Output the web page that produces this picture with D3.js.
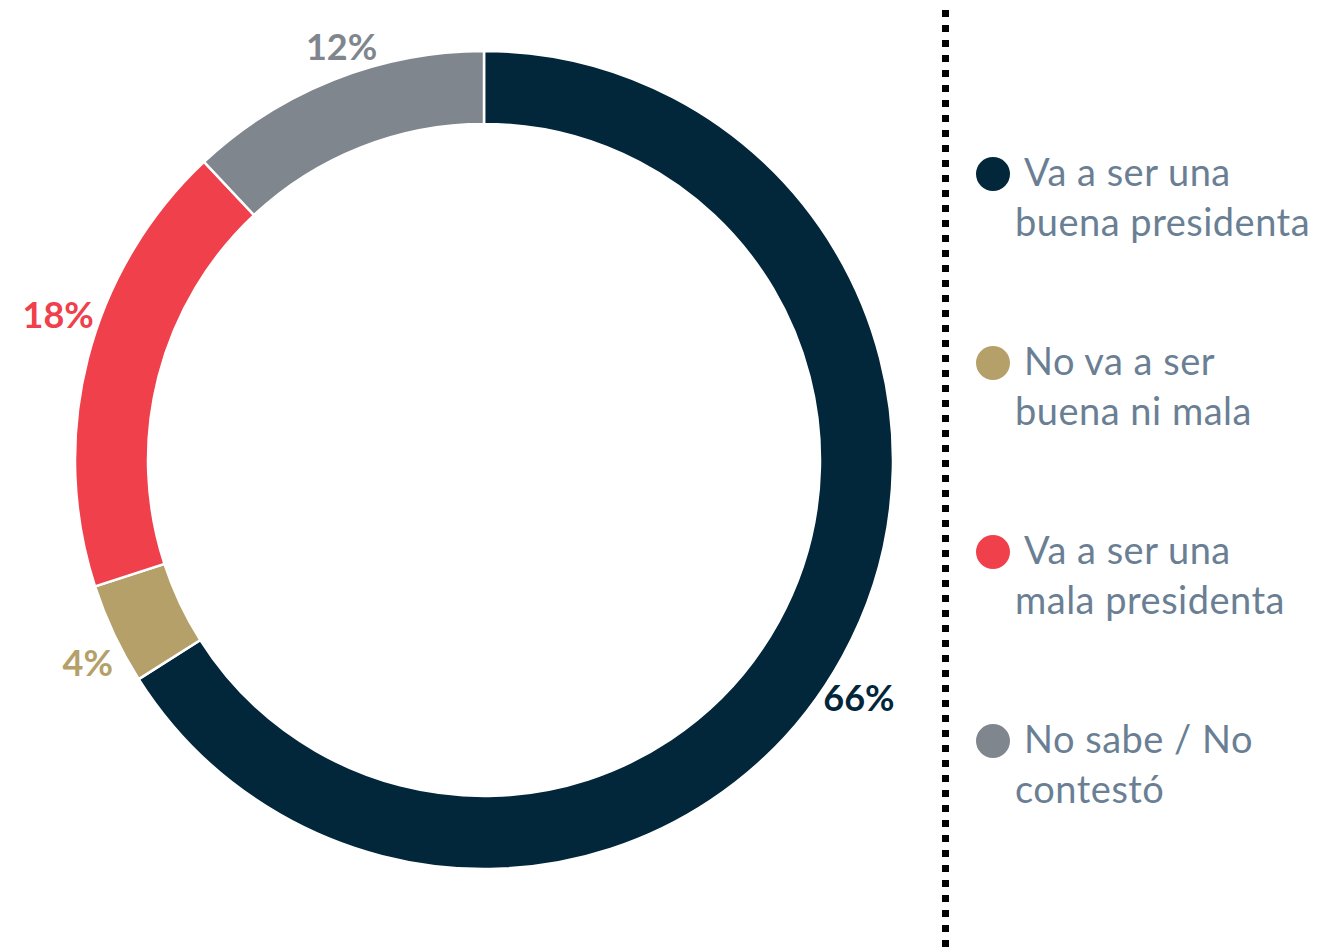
<!DOCTYPE html>
<html>
<head>
<meta charset="utf-8">
<script src="https://cdn.jsdelivr.net/npm/d3@7"></script>
<style>
  body { margin: 0; background: #fff; }
  svg { display: block; }
</style>
</head>
<body>
<svg id="chart" width="1317" height="951"></svg>
<script>
// data
var categories = ["Va a ser una buena presidenta", "No va a ser buena ni mala", "Va a ser una mala presidenta", "No sabe / No contestó"];
var values = [66, 4, 18, 12];
var colors = ["#02263a", "#b5a06a", "#ef404b", "#7f868d"];
var legendLines = [["Va a ser una", "buena presidenta"], ["No va a ser", "buena ni mala"], ["Va a ser una", "mala presidenta"], ["No sabe / No", "contestó"]];

var svg = d3.select("svg#chart");

var cx = 484, cy = 460;
var outerR = 409, innerR = 336;

var pie = d3.pie().sort(null).value(d => d);
var arcs = pie(values);

var arc = d3.arc().innerRadius(innerR).outerRadius(outerR);

var g = svg.append("g").attr("transform", "translate(" + cx + "," + cy + ")");

// slices
g.selectAll("path.slice")
  .data(arcs)
  .enter().append("path")
  .attr("class", "slice")
  .attr("d", arc)
  .attr("fill", (d, i) => colors[i])
  .attr("stroke", "#fff")
  .attr("stroke-width", 2.5);

// labels, outside end (small angle nudges like the original layout)
var nudge = [4, -2.4, 4, 2.4];
function labelPos(d, i) {
  var a = (d.startAngle + d.endAngle) / 2 + nudge[i] * Math.PI / 180;
  var r = 425 + Math.abs(Math.sin(a)) * 25;
  return [r * Math.sin(a), -r * Math.cos(a)];
}

g.selectAll("text.pct")
  .data(arcs)
  .enter().append("text")
  .attr("class", "pct")
  .attr("x", (d, i) => labelPos(d, i)[0])
  .attr("y", (d, i) => labelPos(d, i)[1])
  .attr("text-anchor", "middle")
  .attr("dominant-baseline", "middle")
  .attr("font-family", "Lato, 'Open Sans', sans-serif")
  .attr("font-weight", "bold")
  .attr("font-size", 36)
  .attr("fill", (d, i) => colors[i])
  .text(d => d.data + "%");

// dotted divider
svg.append("line")
  .attr("x1", 945.5).attr("x2", 945.5)
  .attr("y1", 10).attr("y2", 951)
  .attr("stroke", "#000")
  .attr("stroke-width", 7)
  .attr("stroke-dasharray", "7 8");

// legend
var legendY = d3.scaleBand()
  .domain(categories)
  .range([128, 884]);

var item = svg.selectAll("g.legend")
  .data(categories)
  .enter().append("g")
  .attr("class", "legend")
  .attr("transform", d => "translate(0," + legendY(d) + ")");

item.append("circle")
  .attr("cx", 993)
  .attr("cy", 46)
  .attr("r", 17)
  .attr("fill", (d, i) => colors[i]);

item.append("text")
  .attr("font-family", "Lato, 'Open Sans', sans-serif")
  .attr("font-size", 38)
  .attr("letter-spacing", 0.5)
  .attr("fill", "#6a7f94")
  .selectAll("tspan")
  .data((d, i) => legendLines[i])
  .enter().append("tspan")
  .attr("x", (d, j) => j === 0 ? 1024 : 1015)
  .attr("y", (d, j) => 58 + j * 50)
  .text(d => d);
</script>
</body>
</html>
